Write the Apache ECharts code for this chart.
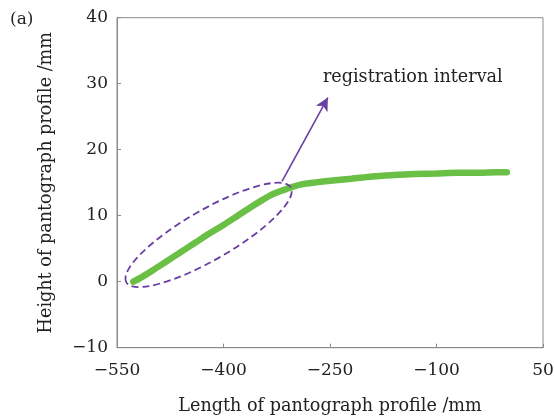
<!DOCTYPE html>
<html>
<head>
<meta charset="utf-8">
<script src="https://cdn.jsdelivr.net/npm/echarts@6/dist/echarts.min.js"></script>
<style>
  html, body { margin: 0; padding: 0; background: #fff; }
  #chart { width: 554px; height: 417px; }
</style>
</head>
<body>
<div id="chart"></div>
<script>
// Pantograph profile: length (mm) vs height (mm)
const profileX = [-527, -515, -500, -480, -460, -440, -420, -400, -380, -360, -345, -332, -320, -305, -290, -270, -250, -220, -190, -160, -130, -100, -70, -40, -15, -1];
const profileY = [0, 0.7, 1.7, 3.1, 4.5, 5.9, 7.3, 8.6, 10.0, 11.4, 12.4, 13.2, 13.7, 14.3, 14.75, 15.05, 15.3, 15.6, 15.95, 16.15, 16.3, 16.4, 16.5, 16.5, 16.6, 16.6];

// Axis ranges
const xTicks = [-550, -400, -250, -100, 50];
const yTicks = [-10, 0, 10, 20, 30, 40];

// Annotation: ellipse around the registration interval, arrow and label
const ellipseCenter = [-421, 7.1];
const arrowFrom = [-317.6, 15.2];
const arrowTo = [-253, 27.9];
const noteAnchor = [-260, 30.9];
const noteText = 'registration interval';

const FONT = 'DejaVu Serif';
const TXT = '#222';
const PURPLE = '#6a3fa3';
const GREEN = '#6abf45';

const fmt = v => String(v).replace('-', '\u2212');

const chart = echarts.init(document.getElementById('chart'), null, { renderer: 'canvas' });

const titleText = {
  type: 'text', left: 10, top: 11,
  style: { text: '(a)', fontFamily: FONT, fontSize: 17, fill: TXT }
};

chart.setOption({
  animation: false,
  backgroundColor: '#fff',
  grid: {
    left: 117, top: 17.7, right: 11, bottom: 69.3,
    outerBoundsMode: 'none', containLabel: false,
    show: true, borderColor: '#8a8a8a', borderWidth: 1
  },
  xAxis: {
    type: 'value', min: xTicks[0], max: xTicks[xTicks.length - 1], interval: 150,
    name: 'Length of pantograph profile /mm', nameLocation: 'middle', nameGap: 50,
    nameTextStyle: { fontFamily: FONT, fontSize: 17.6, color: TXT },
    axisLine: { onZero: false, lineStyle: { color: '#8a8a8a', width: 1 } },
    axisTick: { inside: true, length: 4, lineStyle: { color: '#8a8a8a' } },
    axisLabel: { margin: 14, fontFamily: FONT, fontSize: 17, color: TXT, formatter: fmt },
    splitLine: { show: false }
  },
  yAxis: {
    type: 'value', min: yTicks[0], max: yTicks[yTicks.length - 1], interval: 10,
    name: 'Height of pantograph profile /mm', nameLocation: 'middle', nameGap: 62,
    nameTextStyle: { fontFamily: FONT, fontSize: 17.6, color: TXT },
    axisLine: { onZero: false, lineStyle: { color: '#8a8a8a', width: 1 } },
    axisTick: { inside: true, length: 4, lineStyle: { color: '#8a8a8a' } },
    axisLabel: { margin: 9, fontFamily: FONT, fontSize: 17, color: TXT, formatter: fmt },
    splitLine: { show: false }
  },
  series: [
    {
      type: 'line',
      data: profileX.map((x, i) => [x, profileY[i]]),
      smooth: 0.3,
      showSymbol: false,
      lineStyle: { color: GREEN, width: 6.5, cap: 'round' },
      z: 2,
      markLine: {
        silent: true,
        symbol: ['none', 'arrow'],
        symbolSize: [10, 13],
        lineStyle: { color: PURPLE, width: 1.6, type: 'solid' },
        label: { show: false },
        data: [[{ coord: arrowFrom }, { coord: arrowTo }]]
      }
    }
  ],
  graphic: [titleText]
});

// Place the ellipse and the note in data coordinates
const c = chart.convertToPixel({ gridIndex: 0 }, ellipseCenter);
const n = chart.convertToPixel({ gridIndex: 0 }, noteAnchor);
chart.setOption({
  graphic: [
    titleText,
    {
      type: 'ellipse', x: c[0], y: c[1], rotation: 30 * Math.PI / 180, z: 10,
      shape: { cx: 0, cy: 0, rx: 95, ry: 25 },
      style: { fill: null, stroke: PURPLE, lineWidth: 1.8, lineDash: [7, 4] }
    },
    {
      type: 'text', x: n[0], y: n[1], z: 10,
      style: { text: noteText, fontFamily: FONT, fontSize: 17.6, fill: TXT, verticalAlign: 'middle', align: 'left' }
    }
  ]
});
</script>
</body>
</html>
